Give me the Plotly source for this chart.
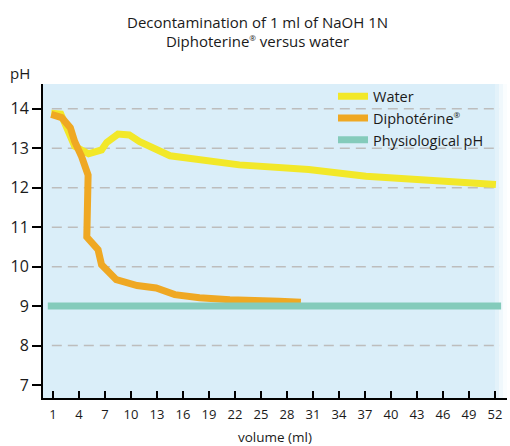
import plotly.graph_objects as go

# Data
vol_water = [0.8, 1.9, 3.5, 5.1, 6.6, 7.2, 8.5, 9.8, 11.0, 14.5, 22.5, 30.5, 37.1, 44.8, 52.1]
ph_water = [13.89, 13.87, 13.05, 12.86, 12.96, 13.15, 13.36, 13.34, 13.17, 12.81, 12.58, 12.46, 12.29, 12.16, 12.08]

vol_diph = [0.8, 2.0, 3.0, 3.5, 4.3, 5.05, 4.9, 6.2, 6.6, 8.3, 10.7, 12.9, 15.05, 17.9, 21.4, 24.8, 27.1, 29.6]
ph_diph = [13.86, 13.78, 13.52, 13.17, 12.79, 12.32, 10.75, 10.43, 10.05, 9.67, 9.52, 9.46, 9.29, 9.21, 9.16, 9.16, 9.12, 9.10]

vol_phys = [0.4, 52.7]
ph_phys = [9, 9]

x_ticks = list(range(1, 53, 3))
y_ticks = [7, 8, 9, 10, 11, 12, 13, 14]
grid_levels = [8, 10, 11, 12, 13, 14]

FONT = "Open Sans"
REG = "<sup><span style='font-size:8px'>®</span></sup>"

fig = go.Figure()
fig.add_trace(go.Scatter(x=vol_water, y=ph_water, mode="lines", name="Water",
                         line=dict(color="#f2e829", width=7)))
fig.add_trace(go.Scatter(x=vol_diph, y=ph_diph, mode="lines", name="Diphotérine" + REG,
                         line=dict(color="#efa823", width=7)))
fig.add_trace(go.Scatter(x=vol_phys, y=ph_phys, mode="lines", name="Physiological pH",
                         line=dict(color="#84cbbb", width=7)))

shapes = []
for g in grid_levels:
    shapes.append(dict(type="line", xref="paper", x0=0.019, x1=0.985, yref="y", y0=g, y1=g,
                       line=dict(color="#bdbdbd", width=1.5, dash="10px,6px"), layer="below"))
# fade on the right edge of the plot background
for i, op in enumerate([0.25, 0.45, 0.65]):
    shapes.append(dict(type="rect", xref="paper", yref="paper",
                       x0=0.974 + i * 0.0087, x1=1.0, y0=0, y1=1,
                       fillcolor="white", opacity=op, line=dict(width=0), layer="below"))

fig.update_layout(
    width=510, height=446,
    margin=dict(l=43, r=3, t=84, b=48, autoexpand=False),
    paper_bgcolor="white",
    plot_bgcolor="#daeef9",
    font=dict(family=FONT, color="#1a1a1a", size=13),
    title=dict(text="Decontamination of 1 ml of NaOH 1N<br>Diphoterine" + REG + " versus water",
               x=0.505, xanchor="center", y=0.938, yanchor="top",
               font=dict(family=FONT, size=15, color="#1a1a1a")),
    showlegend=True,
    legend=dict(x=0.625, y=1.012, xanchor="left", yanchor="top",
                bgcolor="rgba(0,0,0,0)", font=dict(size=14.5, family=FONT),
                itemwidth=30, tracegroupgap=4),
    shapes=shapes,
    xaxis=dict(range=[-0.154, 53.38], tickmode="array", tickvals=x_ticks,
               ticks="inside", ticklen=7, tickwidth=1.5, tickcolor="black",
               showline=True, linecolor="black", linewidth=2,
               showgrid=False, zeroline=False, ticklabelstandoff=3,
               tickfont=dict(size=13, family=FONT),
               title=dict(text="volume (ml)", font=dict(size=13.5, family=FONT), standoff=12)),
    yaxis=dict(range=[6.67, 14.63], tickmode="array", tickvals=y_ticks,
               ticks="outside", ticklen=9, tickwidth=1.5, tickcolor="black",
               showline=True, linecolor="black", linewidth=2,
               showgrid=False, zeroline=False,
               tickfont=dict(size=16, family=FONT)),
    annotations=[dict(text="pH", xref="paper", yref="paper", x=-0.05, y=1.035,
                      xanchor="center", yanchor="middle", showarrow=False,
                      font=dict(size=15, family=FONT))],
)

fig.write_html("out.html", config={"displayModeBar": False},
               post_script="document.body.style.margin='0';")
